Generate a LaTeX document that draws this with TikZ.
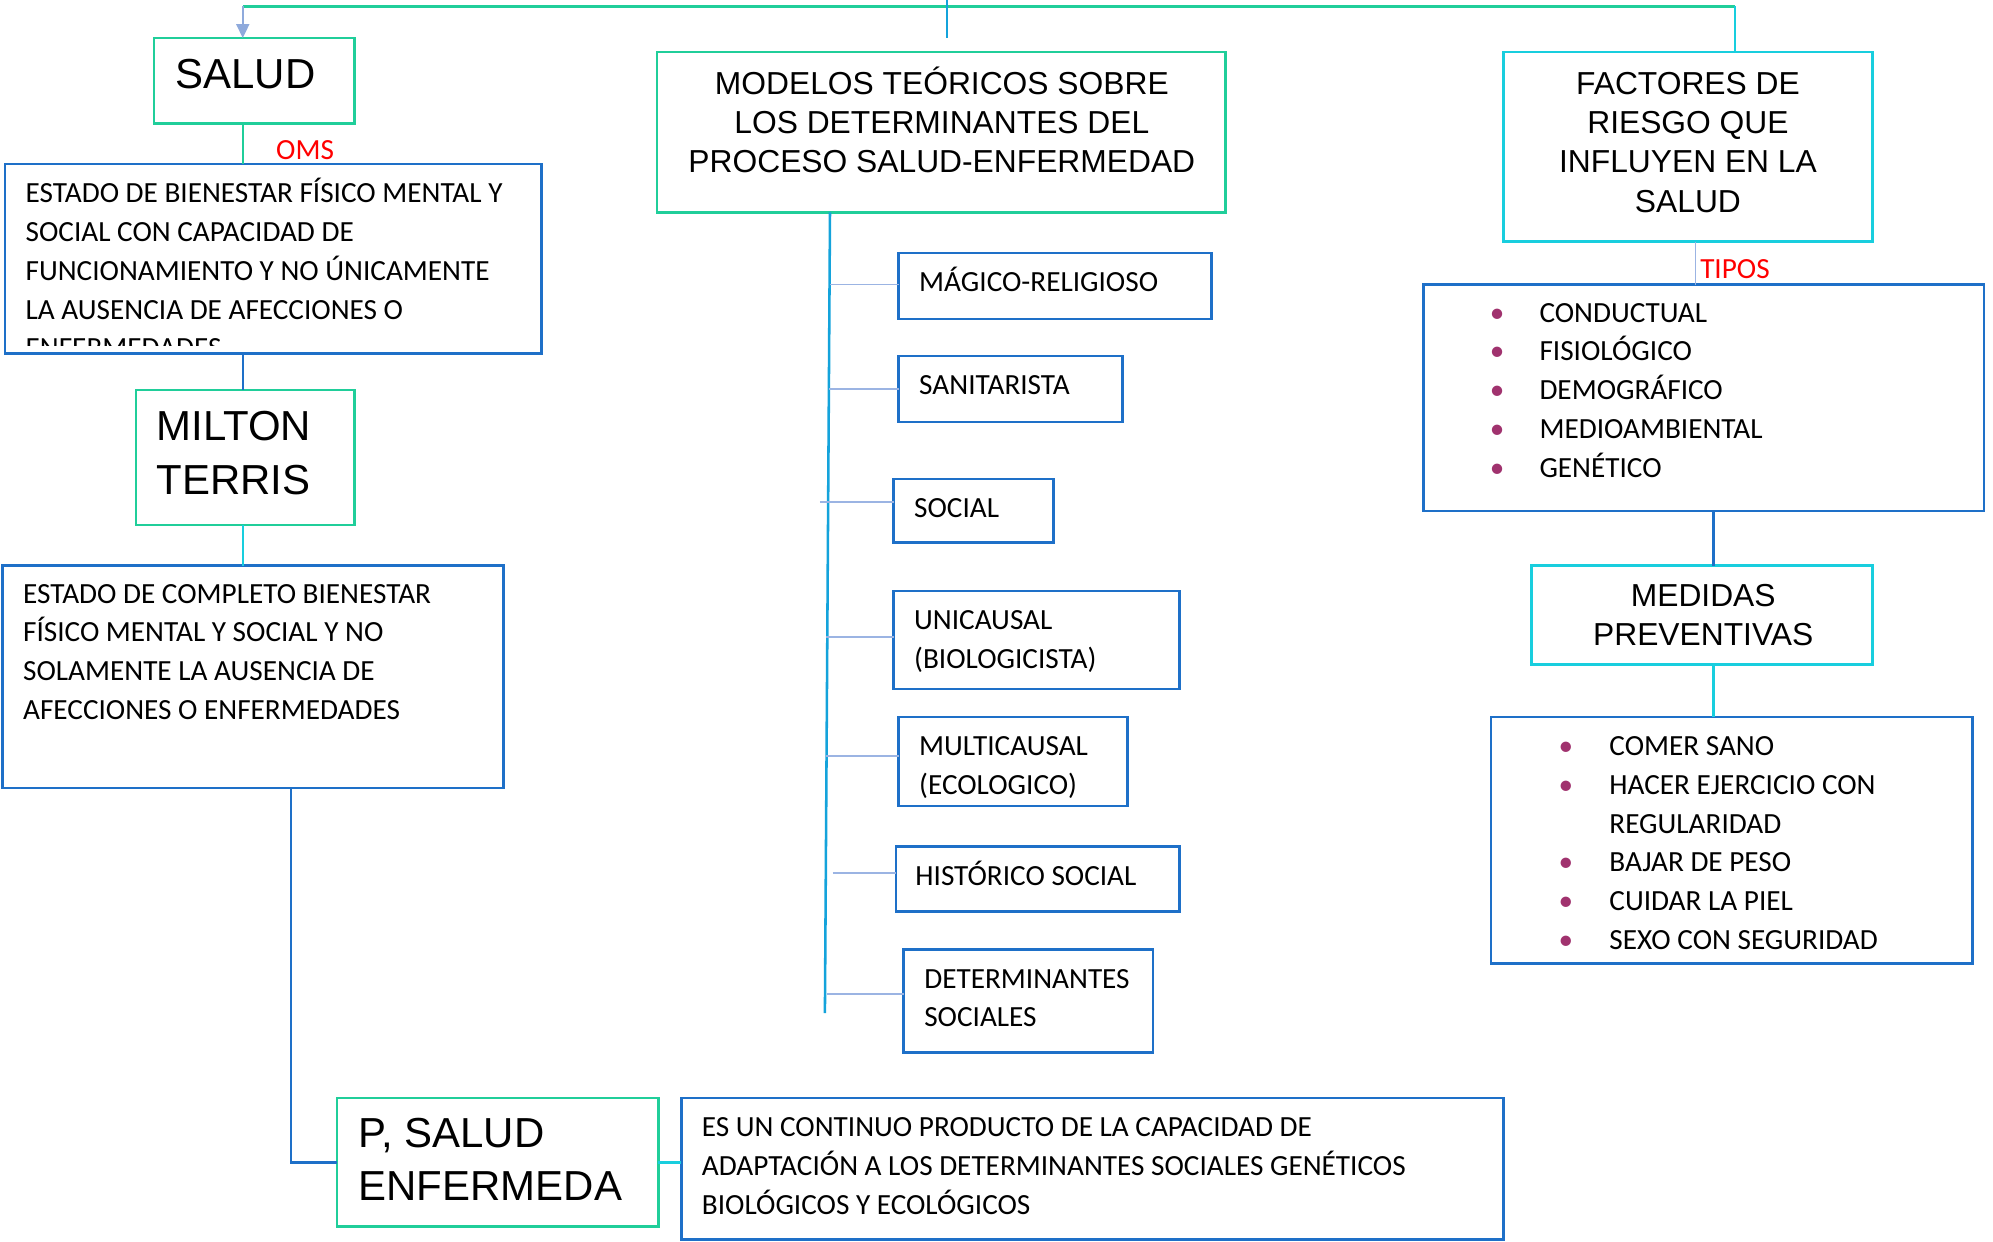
\documentclass[tikz,border=0pt]{standalone}
\usepackage{fontspec}
\setmainfont{Carlito}
\newfontfamily\arialf{Liberation Sans}
\usetikzlibrary{calc,arrows.meta}
\definecolor{cgreen}{RGB}{32,206,154}
\definecolor{cblue}{RGB}{30,112,200}
\definecolor{ccyan}{RGB}{24,206,222}
\definecolor{cspine}{RGB}{20,163,219}
\definecolor{clight}{RGB}{155,180,227}
\definecolor{carrow}{RGB}{143,170,220}
\definecolor{cbul}{RGB}{160,50,110}
\newcommand{\bul}[1]{\makebox[#1][l]{\textcolor{cbul}{\textbullet}}}
\begin{document}
\begin{tikzpicture}[x=1pt,y=-1pt,
 box/.style={draw, line width=2pt, inner sep=0pt, outer sep=0pt, anchor=north west},
 gbox/.style={box, draw=cgreen},
 bbox/.style={box, draw=cblue},
 cbox/.style={box, draw=ccyan},
 conn/.style={line width=2pt},
 branch/.style={draw=clight, line width=1.2pt},
 body/.style={font=\fontsize{23}{30.5}\selectfont, align=left, inner sep=0pt, anchor=base west},
 bigtitle/.style={font=\arialf\fontsize{33}{42}\selectfont, align=left, inner sep=0pt, anchor=base west},
 ctitle/.style={font=\arialf\fontsize{25}{31}\selectfont, align=center, inner sep=0pt, anchor=base},
 redlab/.style={font=\fontsize{23}{28}\selectfont, text=red, inner sep=0pt, anchor=base}
]
\useasboundingbox (0,0) rectangle (1568,977);

% column coordinates
\coordinate (x191) at (191,0);
\coordinate (x229) at (229,0);
\coordinate (x1334) at (1334,0);
\coordinate (x1348) at (1348,0);
\coordinate (tl) at (191,5);
\coordinate (tr) at (1365,5);
\coordinate (stubtop) at (745,0);
\coordinate (stubbot) at (745,30);
\coordinate (spinetop) at (653,167);
\coordinate (spineend) at (649,797);

% boxes
\node[gbox, minimum width=158pt, minimum height=67pt] (salud) at (121,30) {};
\node[bbox, minimum width=422pt, minimum height=149pt] (oms) at (4,129) {};
\node[gbox, minimum width=172pt, minimum height=106pt] (milton) at (107,307) {};
\node[bbox, minimum width=394pt, minimum height=175pt] (completo) at (2,445) {};
\node[gbox, minimum width=253pt, minimum height=101pt] (psalud) at (265,864) {};
\node[bbox, minimum width=647pt, minimum height=111pt] (desc) at (536,864) {};
\node[gbox, minimum width=447pt, minimum height=126pt] (modelos) at (517,41) {};
\node[bbox, minimum width=246pt, minimum height=52pt] (magico) at (707,199) {};
\node[bbox, minimum width=176pt, minimum height=52pt] (sanit) at (707,280) {};
\node[bbox, minimum width=126pt, minimum height=50pt] (social) at (703,377) {};
\node[bbox, minimum width=225pt, minimum height=77pt] (unic) at (703,465) {};
\node[bbox, minimum width=180pt, minimum height=70pt] (multi) at (707,564) {};
\node[bbox, minimum width=223pt, minimum height=51pt] (hist) at (705,666) {};
\node[bbox, minimum width=196pt, minimum height=81pt] (deter) at (711,747) {};
\node[cbox, minimum width=290pt, minimum height=149pt] (factores) at (1183,41) {};
\node[bbox, minimum width=441pt, minimum height=178pt] (tipos) at (1120,224) {};
\node[cbox, minimum width=268pt, minimum height=78pt] (medidas) at (1205,445) {};
\node[bbox, minimum width=379pt, minimum height=194pt] (prev) at (1173,564) {};

% top connectors
\draw[conn, cgreen] (tl) -- (tr);
\draw[conn, ccyan] (tr) -- (factores.north -| tr);
\draw[conn, cspine] (stubtop) -- (stubbot);
\draw[conn, carrow, -{Triangle[length=11pt,width=10pt]}] (tl) -- (salud.north -| tl);

% left column connectors
\draw[conn, cgreen] (salud.south -| x191) -- (oms.north -| x191);
\draw[conn, cblue] (oms.south -| x191) -- (milton.north -| x191);
\draw[conn, ccyan] (milton.south -| x191) -- (completo.north -| x191);
\draw[conn, cblue] (completo.south -| x229) |- (psalud.west);
\draw[conn, ccyan] (psalud.east) -- (psalud.east -| desc.west);

% spine and branches
\draw[conn, cspine] (spinetop) -- (spineend);
\path ($(magico.north west)!0.48!(magico.south west)$) coordinate (bmagico);
\path ($(sanit.north west)!0.5!(sanit.south west)$) coordinate (bsanit);
\path ($(social.north west)!0.36!(social.south west)$) coordinate (bsocial);
\path ($(unic.north west)!0.47!(unic.south west)$) coordinate (bunic);
\path ($(multi.north west)!0.44!(multi.south west)$) coordinate (bmulti);
\path ($(hist.north west)!0.41!(hist.south west)$) coordinate (bhist);
\path ($(deter.north west)!0.43!(deter.south west)$) coordinate (bdeter);
\coordinate (x653) at (653,0);
\coordinate (x652) at (652,0);
\coordinate (x645) at (645,0);
\coordinate (x651) at (651,0);
\coordinate (x650) at (650,0);
\coordinate (x655) at (655,0);
\draw[branch] (bmagico -| x653) -- (bmagico);
\draw[branch] (bsanit -| x652) -- (bsanit);
\draw[branch] (bsocial -| x645) -- (bsocial);
\draw[branch] (bunic -| x650) -- (bunic);
\draw[branch] (bmulti -| x650) -- (bmulti);
\draw[branch] (bhist -| x655) -- (bhist);
\draw[branch] (bdeter -| x651) -- (bdeter);

% right column connectors
\draw[branch] (factores.south -| x1334) -- (tipos.north -| x1334);
\draw[conn, cblue] (tipos.south -| x1348) -- (medidas.north -| x1348);
\draw[conn, ccyan] (medidas.south -| x1348) -- (prev.north -| x1348);

% texts (anchor base = baseline of the last line)
\node[bigtitle] (saludt) at (138,69.8) {SALUD};
\node[redlab] (omslab) at (240,125.4) {OMS};
\begin{scope}
\clip (oms.north west) rectangle ($(oms.south east)+(0,-6)$);
\node[body] (omst) at (20,281.5) {ESTADO DE BIENESTAR FÍSICO MENTAL Y\\SOCIAL CON CAPACIDAD DE\\FUNCIONAMIENTO Y NO ÚNICAMENTE\\LA AUSENCIA DE AFECCIONES O\\ENFERMEDADES};
\end{scope}
\node[bigtitle] (miltont) at (123,388.8) {MILTON\\TERRIS};
\node[body] (completot) at (18,566) {ESTADO DE COMPLETO BIENESTAR\\FÍSICO MENTAL Y SOCIAL Y NO\\SOLAMENTE LA AUSENCIA DE\\AFECCIONES O ENFERMEDADES};
\node[bigtitle] (psaludt) at (282,944.8) {P, SALUD\\ENFERMEDA};
\node[body] (desct) at (552,955.4) {ES UN CONTINUO PRODUCTO DE LA CAPACIDAD DE\\ADAPTACIÓN A LOS DETERMINANTES SOCIALES GENÉTICOS\\BIOLÓGICOS Y ECOLÓGICOS};
\node[ctitle] (modelost) at (741,136) {MODELOS TEÓRICOS SOBRE\\LOS DETERMINANTES DEL\\PROCESO SALUD-ENFERMEDAD};
\node[body] (magicot) at (723,229.4) {MÁGICO-RELIGIOSO};
\node[body] (sanitt) at (723,310.4) {SANITARISTA};
\node[body] (socialt) at (719,407.4) {SOCIAL};
\node[body] (unict) at (719,525.9) {UNICAUSAL\\(BIOLOGICISTA)};
\node[body] (multit) at (723,624.9) {MULTICAUSAL\\(ECOLOGICO)};
\node[body] (histt) at (720,696.4) {HISTÓRICO SOCIAL};
\node[body] (detert) at (727,807.9) {DETERMINANTES\\SOCIALES};
\node[ctitle] (factorest) at (1328,167) {FACTORES DE\\RIESGO QUE\\INFLUYEN EN LA\\SALUD};
\node[redlab] (tiposlab) at (1365,219.4) {TIPOS};
\node[body] (tipost) at (1172,375.4) {\bul{39pt}CONDUCTUAL\\\bul{39pt}FISIOLÓGICO\\\bul{39pt}DEMOGRÁFICO\\\bul{39pt}MEDIOAMBIENTAL\\\bul{39pt}GENÉTICO};
\node[ctitle] (medidast) at (1340,508) {MEDIDAS\\PREVENTIVAS};
\node[body] (prevt) at (1226,746.9) {\bul{40pt}COMER SANO\\\bul{40pt}HACER EJERCICIO CON\\\hspace*{40pt}REGULARIDAD\\\bul{40pt}BAJAR DE PESO\\\bul{40pt}CUIDAR LA PIEL\\\bul{40pt}SEXO CON SEGURIDAD};
\end{tikzpicture}
\end{document}
